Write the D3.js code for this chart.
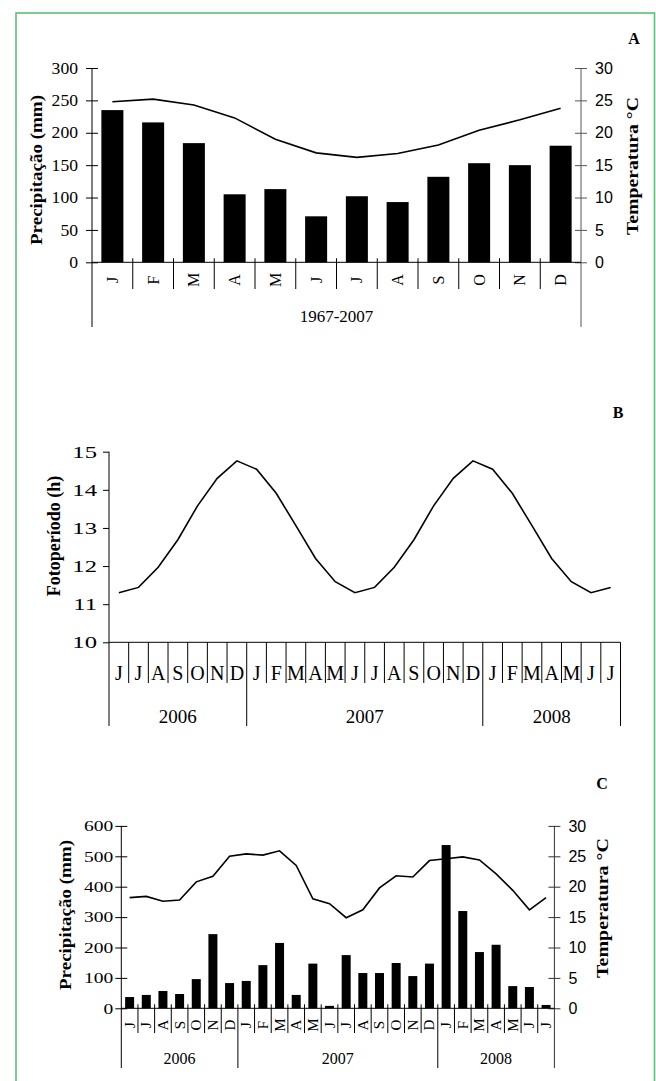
<!DOCTYPE html>
<html><head><meta charset="utf-8">
<script src="https://cdn.jsdelivr.net/npm/d3@7"></script>
<style>body{margin:0;background:#fff}svg{display:block}</style>
</head><body>
<script>
// ---------- DATA ----------
const monthsA = ["J","F","M","A","M","J","J","A","S","O","N","D"];
const precipA = [235,216,184,105,113,71,102,93,132,153,150,180];
const tempA = [24.8,25.2,24.3,22.3,19.0,16.9,16.2,16.8,18.1,20.4,22.0,23.8];
const periodA = "1967-2007";

const monthsBC = ["J","J","A","S","O","N","D","J","F","M","A","M","J","J","A","S","O","N","D","J","F","M","A","M","J","J"];
const yearLabels = ["2006","2007","2008"];
const yearMonths = [7,12,7];

const photoB = [11.30,11.44,11.97,12.69,13.58,14.30,14.76,14.54,13.91,13.06,12.20,11.59,11.30,11.44,11.97,12.69,13.58,14.30,14.76,14.54,13.91,13.06,12.20,11.59,11.30,11.44];

const precipC = [37,44,57,47,96,244,83,90,142,215,44,147,8,175,116,116,149,106,147,537,320,185,209,73,70,11];
const tempC = [18.2,18.4,17.6,17.8,20.8,21.7,25.0,25.4,25.2,25.9,23.5,18.0,17.2,14.9,16.2,19.8,21.8,21.6,24.3,24.6,24.9,24.4,22.1,19.4,16.2,18.2];

const ticksPrecA = [0,50,100,150,200,250,300];
const ticksTemp = [0,5,10,15,20,25,30];
const ticksPhoto = [10,11,12,13,14,15];
const ticksPrecC = [0,100,200,300,400,500,600];

const SERIF = "'Liberation Serif','Times New Roman',serif";
const SANS = "'Liberation Sans',Arial,sans-serif";

const svg = d3.select("body").append("svg").attr("width",656).attr("height",1081);
svg.append("rect").attr("width",656).attr("height",1081).attr("fill","#fff");
svg.append("rect").attr("x",16).attr("y",13).attr("width",638.5).attr("height",1080)
  .attr("fill","none").attr("stroke","#5cbf78").attr("stroke-width",1.6);

function crossTicks(g, side){ g.selectAll(".tick line").attr("x1", side*-6).attr("x2", side*6); }
function stretch(sel, sx){
  sel.each(function(){ const L=this.getComputedTextLength(); d3.select(this).attr("textLength",L*sx).attr("lengthAdjust","spacingAndGlyphs"); });
}

function panelWithTemp(cfg){
  const {months, precip, temp, x0, x1, y0, y1, pMax, pTicks, bottomMonth, bottomYear, monthY, fontMonth, yearSpec} = cfg;
  const x = d3.scaleBand().domain(d3.range(months.length)).range([x0,x1]).paddingInner(0.46).paddingOuter(0.23);
  const step = (x1-x0)/months.length;
  const y = d3.scaleLinear().domain([0,pMax]).range([y0,y1]);
  const yt = d3.scaleLinear().domain([0,30]).range([y0,y1]);
  const g = svg.append("g");
  g.selectAll("rect.bar").data(precip).join("rect")
    .attr("x",(d,i)=>x(i)).attr("width",x.bandwidth())
    .attr("y",d=>y(d)).attr("height",d=>y0-y(d)).attr("fill","#000");
  const la = g.append("g").attr("transform",`translate(${x0},0)`)
    .call(d3.axisLeft(y).tickValues(pTicks).tickSize(6).tickPadding(cfg.lPad).tickFormat(d3.format("d")));
  la.select(".domain").remove();
  crossTicks(la,1);
  la.selectAll(".tick line").attr("stroke","#000");
  la.selectAll("text").attr("font-family",SERIF).attr("font-size",cfg.lFont).attr("fill","#000");
  stretch(la.selectAll("text"), cfg.lStretch);
  g.append("line").attr("x1",x0).attr("x2",x0).attr("y1",y1).attr("y2",bottomYear).attr("stroke","#000");
  const ra = g.append("g").attr("transform",`translate(${x1},0)`)
    .call(d3.axisRight(yt).tickValues(ticksTemp).tickSize(6).tickPadding(8));
  ra.select(".domain").remove();
  crossTicks(ra,-1);
  ra.selectAll(".tick line").attr("stroke",cfg.rColor);
  ra.selectAll("text").attr("font-family",SANS).attr("font-size",16).attr("fill","#000");
  g.append("line").attr("x1",x1).attr("x2",x1).attr("y1",y1).attr("y2",bottomYear).attr("stroke",cfg.rColor);
  g.append("line").attr("x1",x0).attr("x2",x1).attr("y1",y0).attr("y2",y0).attr("stroke","#000");
  const bounds = [0];
  yearSpec.forEach(n=>bounds.push(bounds[bounds.length-1]+n));
  for(let i=1;i<months.length;i++){
    g.append("line").attr("x1",x0+i*step).attr("x2",x0+i*step).attr("y1",y0-4)
      .attr("y2",bounds.includes(i)?bottomYear:bottomMonth).attr("stroke","#000");
  }
  g.selectAll("text.m").data(months).join("text")
    .attr("transform",(d,i)=>`translate(${x0+(i+0.5)*step},${monthY}) rotate(-90)`)
    .attr("text-anchor","middle").attr("dominant-baseline","central")
    .attr("font-family",SERIF).attr("font-size",fontMonth).text(d=>d);
  const line = d3.line().x((d,i)=>x0+(i+0.5)*step).y(d=>yt(d));
  g.append("path").datum(temp).attr("d",line).attr("fill","none").attr("stroke","#000").attr("stroke-width",1.6);
  cfg.yearTexts.forEach((t,k)=>{
    g.append("text").attr("x",x0+(bounds[k]+bounds[k+1])/2*step).attr("y",cfg.yearY)
      .attr("text-anchor","middle").attr("dominant-baseline","central")
      .attr("font-family",SERIF).attr("font-size",cfg.yearFont).text(t);
  });
  g.append("text").attr("transform",`translate(${cfg.ltX},${cfg.ltY}) rotate(-90)`)
    .attr("text-anchor","middle").attr("dominant-baseline","central")
    .attr("font-family",SERIF).attr("font-weight","bold").attr("font-size",17)
    .attr("textLength",cfg.ltLen).attr("lengthAdjust","spacingAndGlyphs").text("Precipitação (mm)");
  g.append("text").attr("transform",`translate(${cfg.rtX},${cfg.rtY}) rotate(-90)`)
    .attr("text-anchor","middle").attr("dominant-baseline","central")
    .attr("font-family",SERIF).attr("font-weight","bold").attr("font-size",17)
    .attr("textLength",cfg.rtLen).attr("lengthAdjust","spacingAndGlyphs").text("Temperatura °C");
  g.append("text").attr("x",cfg.lx).attr("y",cfg.ly).attr("text-anchor","middle").attr("dominant-baseline","central")
    .attr("font-family",SERIF).attr("font-weight","bold").attr("font-size",16).text(cfg.letter);
}

// Panel A
panelWithTemp({months:monthsA, precip:precipA, temp:tempA, x0:92, x1:581, y0:262.3, y1:68, pMax:300, pTicks:ticksPrecA,
  lPad:8, lFont:16, lStretch:1.1, rColor:"#555",
  bottomMonth:289, bottomYear:327, monthY:280, fontMonth:16, yearSpec:[12], yearTexts:[periodA], yearY:316, yearFont:17,
  ltX:36, ltY:170, ltLen:150, rtX:632, rtY:166, rtLen:138, letter:"A", lx:634, ly:38});

// Panel C
panelWithTemp({months:monthsBC, precip:precipC, temp:tempC, x0:121.3, x1:554.4, y0:1008.3, y1:825.9, pMax:600, pTicks:ticksPrecC,
  lPad:2, lFont:15, lStretch:1.3, rColor:"#333",
  bottomMonth:1033, bottomYear:1068, monthY:1025, fontMonth:15, yearSpec:yearMonths, yearTexts:yearLabels, yearY:1058, yearFont:16,
  ltX:65, ltY:915, ltLen:150, rtX:602, rtY:908, rtLen:140, letter:"C", lx:602, ly:783});

// Panel B
(function(){
  const x0=109, x1=620.5, y0=642.3, y1=451.7;
  const n = monthsBC.length, step=(x1-x0)/n;
  const x = d3.scaleBand().domain(d3.range(n)).range([x0,x1]);
  const y = d3.scaleLinear().domain([10,15]).range([y0,y1]);
  const g = svg.append("g");
  const la = g.append("g").attr("transform",`translate(${x0},0)`)
    .call(d3.axisLeft(y).tickValues(ticksPhoto).tickSize(6).tickPadding(6).tickFormat(d3.format("d")));
  la.select(".domain").remove();
  la.selectAll(".tick line").attr("stroke","#000");
  la.selectAll("text").attr("font-family",SERIF).attr("font-size",17).attr("fill","#000");
  stretch(la.selectAll("text"), 1.45);
  g.append("line").attr("x1",x0).attr("x2",x0).attr("y1",y1).attr("y2",726).attr("stroke","#000");
  g.append("line").attr("x1",x0).attr("x2",x1).attr("y1",y0).attr("y2",y0).attr("stroke","#000");
  const bounds=[0]; yearMonths.forEach(m=>bounds.push(bounds[bounds.length-1]+m));
  for(let i=1;i<=n;i++){
    g.append("line").attr("x1",x0+i*step).attr("x2",x0+i*step).attr("y1",y0)
      .attr("y2",bounds.includes(i)?726:683).attr("stroke","#000");
  }
  g.selectAll("text.m").data(monthsBC).join("text")
    .attr("x",(d,i)=>x(i)+x.bandwidth()/2).attr("y",673)
    .attr("text-anchor","middle").attr("dominant-baseline","central")
    .attr("font-family",SERIF).attr("font-size",20).text(d=>d);
  yearLabels.forEach((t,k)=>{
    g.append("text").attr("x",x0+(bounds[k]+bounds[k+1])/2*step).attr("y",716)
      .attr("text-anchor","middle").attr("dominant-baseline","central")
      .attr("font-family",SERIF).attr("font-size",19).text(t);
  });
  const line = d3.line().x((d,i)=>x(i)+x.bandwidth()/2).y(d=>y(d));
  g.append("path").datum(photoB).attr("d",line).attr("fill","none").attr("stroke","#000").attr("stroke-width",1.6);
  g.append("text").attr("transform",`translate(54,536) rotate(-90)`)
    .attr("text-anchor","middle").attr("dominant-baseline","central")
    .attr("font-family",SERIF).attr("font-weight","bold").attr("font-size",18).text("Fotoperíodo (h)");
  g.append("text").attr("x",618).attr("y",412).attr("text-anchor","middle").attr("dominant-baseline","central")
    .attr("font-family",SERIF).attr("font-weight","bold").attr("font-size",16).text("B");
})();
</script>
</body></html>
